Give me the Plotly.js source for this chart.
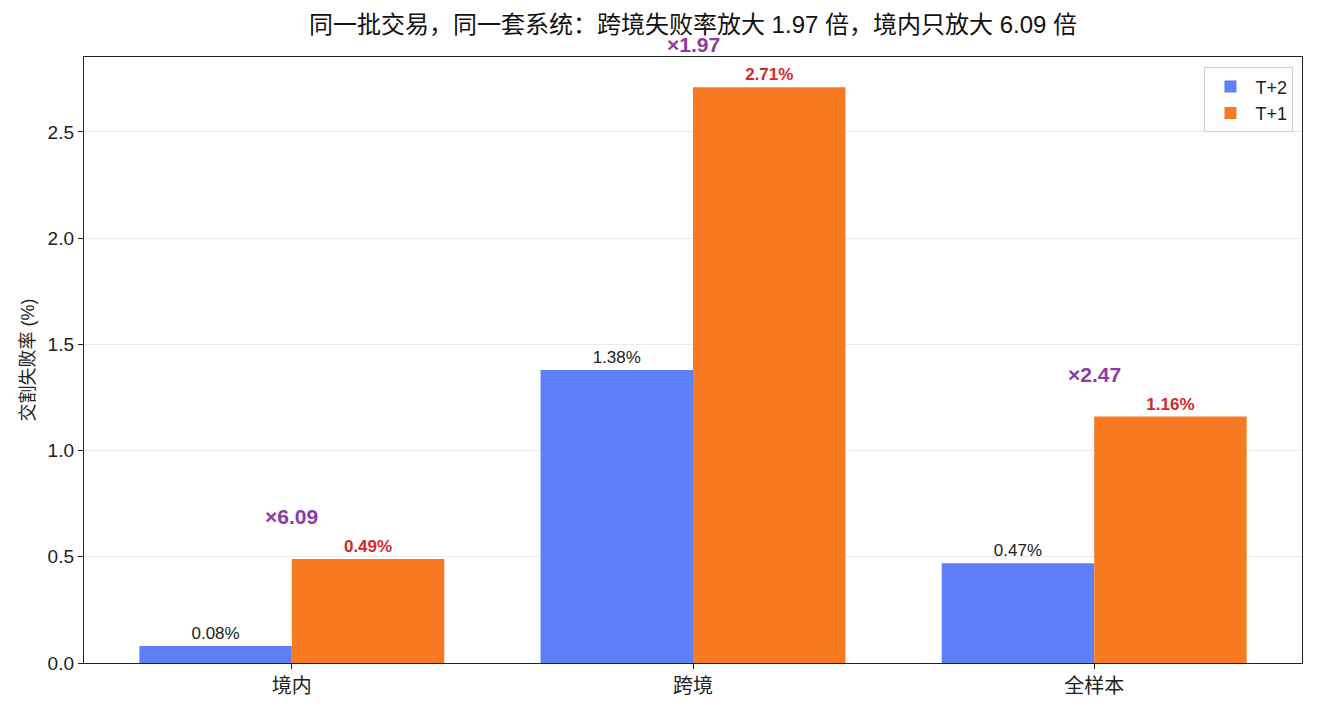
<!DOCTYPE html>
<html>
<head>
<meta charset="utf-8">
<script src="https://cdn.plot.ly/plotly-3.0.1.min.js"></script>
<style>
  html, body { margin: 0; padding: 0; background: #fff; }
  #chart { width: 1317px; height: 713px; }
</style>
</head>
<body>
<div id="chart"></div>
<script>
var categories = ['境内', '跨境', '全样本'];
var t2Values = [0.08, 1.38, 0.47];
var t1Values = [0.49, 2.71, 1.16];
var multipliers = [6.09, 1.97, 2.47];
var seriesNames = ['T+2', 'T+1'];

var fontFamily = '"Liberation Sans", "Noto Sans CJK SC", sans-serif';
var yMax = 2.853;

var data = [
  {
    x: categories,
    y: t2Values,
    name: seriesNames[0],
    type: 'bar',
    marker: { color: '#5f7ff6' },
    text: t2Values.map(function (v) { return v.toFixed(2) + '%'; }),
    textposition: 'outside',
    textfont: { family: fontFamily, size: 17, color: '#222222' },
    cliponaxis: false,
    hoverinfo: 'none'
  },
  {
    x: categories,
    y: t1Values,
    name: seriesNames[1],
    type: 'bar',
    marker: { color: '#f77a22' },
    text: t1Values.map(function (v) { return '<b>' + v.toFixed(2) + '%</b>'; }),
    textposition: 'outside',
    textfont: { family: fontFamily, size: 17, color: '#d62728' },
    cliponaxis: false,
    hoverinfo: 'none'
  }
];

// multiplier labels sit a fixed step above the T+1 bar; paper coords so the
// one above the top of the axes is still drawn
var annotations = [];
for (var i = 0; i < categories.length; i++) {
  annotations.push({
    xref: 'x',
    yref: 'paper',
    x: categories[i],
    y: (t1Values[i] + 0.2) / yMax,
    xanchor: 'center',
    yanchor: 'middle',
    text: '<b>×' + multipliers[i].toFixed(2) + '</b>',
    showarrow: false,
    font: { family: fontFamily, size: 21, color: '#8e3aa6' }
  });
}

var layout = {
  width: 1317,
  height: 713,
  paper_bgcolor: '#ffffff',
  plot_bgcolor: '#ffffff',
  font: { family: fontFamily, size: 18, color: '#222222' },
  margin: { l: 84, r: 15, t: 57, b: 50, autoexpand: false },
  title: {
    text: '同一批交易，同一套系统：跨境失败率放大 1.97 倍，境内只放大 6.09 倍',
    font: { family: fontFamily, size: 24, color: '#111111' },
    x: 0.5,
    xref: 'paper',
    xanchor: 'center',
    y: 0.966,
    yref: 'container',
    yanchor: 'middle'
  },
  barmode: 'group',
  bargap: 0.24,
  bargroupgap: 0,
  showlegend: true,
  legend: {
    x: 0.993,
    y: 0.983,
    xanchor: 'right',
    yanchor: 'top',
    bgcolor: 'rgba(255,255,255,0.8)',
    bordercolor: '#d0d0d0',
    borderwidth: 1,
    font: { family: fontFamily, size: 18, color: '#222222' },
    traceorder: 'normal',
    itemwidth: 40
  },
  xaxis: {
    type: 'category',
    range: [-0.518, 2.518],
    showline: true,
    linecolor: '#222222',
    linewidth: 1.2,
    mirror: true,
    ticks: 'outside',
    ticklen: 5,
    tickcolor: '#222222',
    showgrid: false,
    tickfont: { family: fontFamily, size: 20, color: '#222222' }
  },
  yaxis: {
    range: [0, yMax],
    dtick: 0.5,
    tick0: 0,
    tickformat: '.1f',
    showline: true,
    linecolor: '#222222',
    linewidth: 1.2,
    mirror: true,
    ticks: 'outside',
    ticklen: 5,
    tickcolor: '#222222',
    showgrid: true,
    gridcolor: '#ebebeb',
    gridwidth: 1,
    zeroline: false,
    tickfont: { family: fontFamily, size: 19, color: '#222222' },
    title: {
      text: '交割失败率 (%)',
      font: { family: fontFamily, size: 18, color: '#222222' },
      standoff: 8
    }
  },
  annotations: annotations
};

Plotly.newPlot('chart', data, layout, { displayModeBar: false, staticPlot: true });
</script>
</body>
</html>
